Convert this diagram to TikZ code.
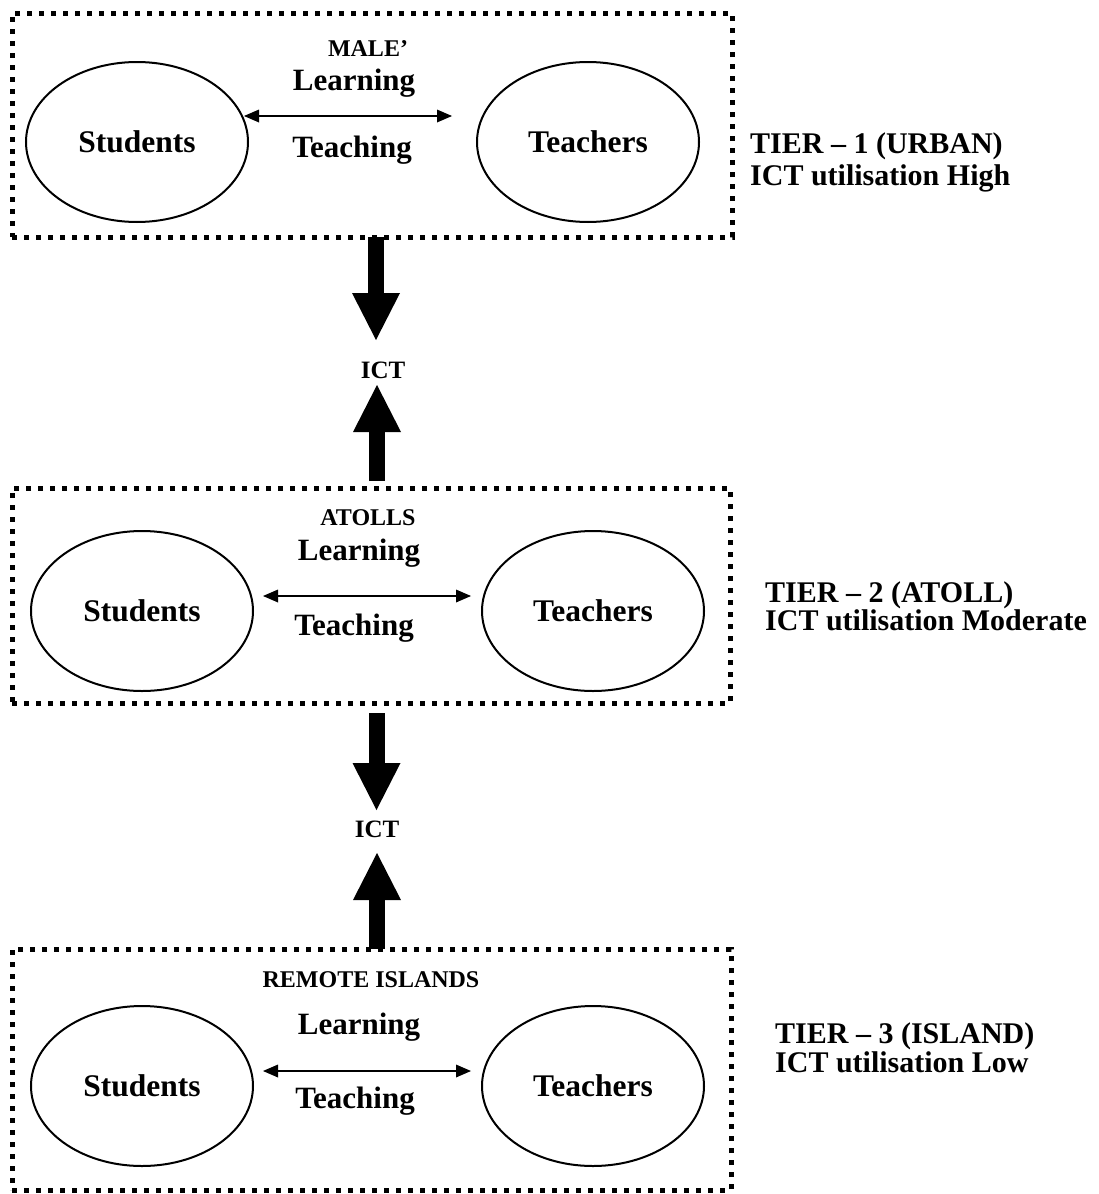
\documentclass[tikz,border=0pt]{standalone}
\usepackage{fontspec}
\setmainfont{Liberation Serif}
\usetikzlibrary{arrows.meta,shapes.geometric}
\begin{document}
\begin{tikzpicture}[x=1pt,y=-1pt,
  tierbox/.style={draw, line width=5pt, dash pattern=on 5pt off 7pt, inner sep=0pt},
  person/.style={draw, ellipse, line width=2pt, minimum width=222pt, minimum height=160pt, inner sep=0pt, font=\fontsize{31.5}{36}\selectfont\bfseries},
  lbl/.style={inner sep=0pt, anchor=base, font=\fontsize{31}{36}\selectfont\bfseries},
  hdr/.style={inner sep=0pt, anchor=base, font=\fontsize{24}{28}\selectfont\bfseries},
  ictlbl/.style={inner sep=0pt, anchor=base, font=\fontsize{25}{30}\selectfont\bfseries},
  tier/.style={inner sep=0pt, anchor=base west, font=\fontsize{30}{34}\selectfont\bfseries},
  link/.style={line width=2.5pt, {Triangle[length=15pt,width=13pt,line width=0pt]}-{Triangle[length=15pt,width=13pt,line width=0pt]}},
  bigarrow/.style={line width=16pt, -{Triangle[length=47pt,width=48pt,line width=0pt]}}
]
\useasboundingbox (0,0) rectangle (1099,1194);

% ---------- Tier 1 ----------
\node[tierbox, minimum width=720pt, minimum height=224pt] (b1) at (372,125) {};
\node[person] (s1) at (137,142) {Students};
\node[person] (t1) at (588,142) {Teachers};
\node[hdr] (h1) at (368,56) {MALE’};
\node[lbl] (l1) at (354,90) {Learning};
\node[lbl] (g1) at (352,157) {Teaching};
\coordinate (a1l) at (244,116);
\coordinate (a1r) at (452,116);
\draw[link] (a1l) -- (a1r);
\node[tier] (r1a) at (750,153) {TIER – 1 (URBAN)};
\node[tier] (r1b) at (750,185) {ICT utilisation High};

% ---------- Tier 2 ----------
\node[tierbox, minimum width=718pt, minimum height=215pt] (b2) at (371,595.5) {};
\node[person] (s2) at (142,611) {Students};
\node[person] (t2) at (593,611) {Teachers};
\node[hdr] (h2) at (368,525) {ATOLLS};
\node[lbl] (l2) at (359,560) {Learning};
\node[lbl] (g2) at (354,635) {Teaching};
\coordinate (a2l) at (263,596);
\coordinate (a2r) at (471,596);
\draw[link] (a2l) -- (a2r);
\node[tier] (r2a) at (765,602) {TIER – 2 (ATOLL)};
\node[tier] (r2b) at (765,630) {ICT utilisation Moderate};

% ---------- Tier 3 ----------
\node[tierbox, minimum width=719pt, minimum height=241pt] (b3) at (371.5,1069.5) {};
\node[person] (s3) at (142,1086) {Students};
\node[person] (t3) at (593,1086) {Teachers};
\node[hdr] (h3) at (371,987) {REMOTE ISLANDS};
\node[lbl] (l3) at (359,1034) {Learning};
\node[lbl] (g3) at (355,1108) {Teaching};
\coordinate (a3l) at (263,1071);
\coordinate (a3r) at (471,1071);
\draw[link] (a3l) -- (a3r);
\node[tier] (r3a) at (775,1043) {TIER – 3 (ISLAND)};
\node[tier] (r3b) at (775,1072) {ICT utilisation Low};

% ---------- ICT arrows ----------
\node[ictlbl] (ict1) at (383,378) {ICT};
\node[ictlbl] (ict2) at (377,837) {ICT};
\coordinate (d1s) at (376,237);
\coordinate (d1e) at (376,340);
\coordinate (u1s) at (377,481);
\coordinate (u1e) at (377,385);
\coordinate (d2s) at (376.5,713);
\coordinate (d2e) at (376.5,810);
\coordinate (u2s) at (377,949);
\coordinate (u2e) at (377,853);
\draw[bigarrow] (d1s) -- (d1e);
\draw[bigarrow] (u1s) -- (u1e);
\draw[bigarrow] (d2s) -- (d2e);
\draw[bigarrow] (u2s) -- (u2e);
\end{tikzpicture}
\end{document}
